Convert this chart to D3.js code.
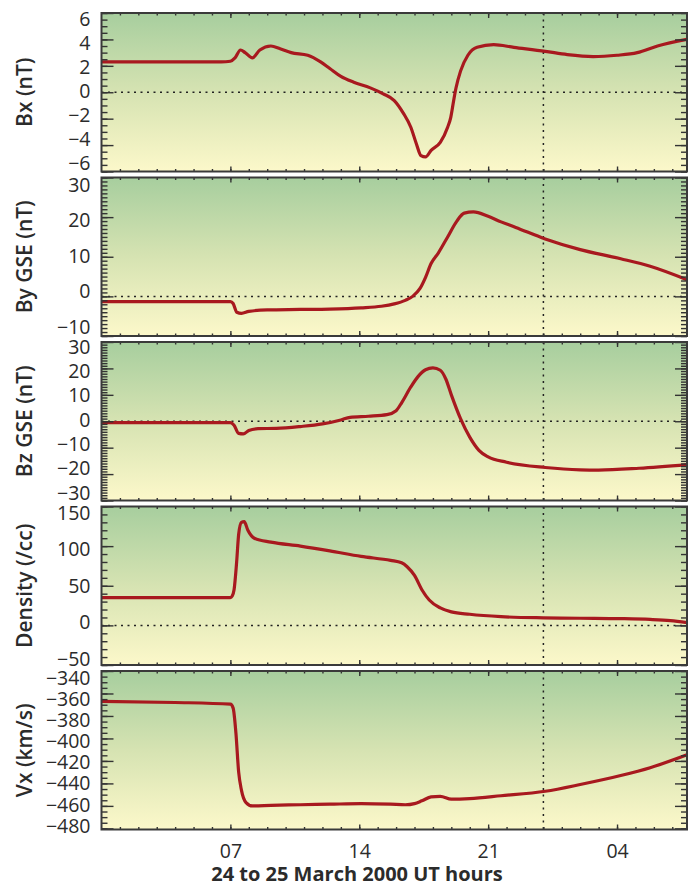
<!DOCTYPE html>
<html>
<head>
<meta charset="utf-8">
<script src="https://cdn.jsdelivr.net/npm/d3@7"></script>
<style>
  body { margin: 0; background: #fff; }
  text { font-family: "Open Sans", "Noto Sans", sans-serif; fill: #2b2b2b; }
</style>
</head>
<body>
<script>
// --- data: [hour since 00 UT 24 March, value] ---
var bxData = [[0,2.3],[3,2.3],[6.5,2.3],[7.0,2.35],[7.25,2.6],[7.55,3.2],[7.8,3.0],[8.2,2.6],[8.6,3.2],[9.2,3.5],[9.7,3.3],
  [10.3,3.0],[11.2,2.8],[11.9,2.3],[12.4,1.8],[13.0,1.2],[13.7,0.76],[14.6,0.33],[15.3,-0.12],[15.9,-0.63],[16.4,-1.6],
  [16.8,-2.65],[17.1,-3.9],[17.35,-4.8],[17.6,-4.9],[17.9,-4.4],[18.4,-3.8],[18.8,-2.65],[18.97,-1.9],[19.13,-0.6],
  [19.25,0.3],[19.5,1.6],[19.9,2.8],[20.4,3.4],[21.3,3.6],[22.4,3.4],[24.1,3.1],[25.3,2.85],[26.7,2.7],[28.0,2.8],
  [29.1,3.0],[30.2,3.5],[31.8,4.0]];

var byData = [[0,-1.3],[7.0,-1.3],[7.15,-1.8],[7.35,-4.0],[7.6,-4.3],[8.0,-3.8],[9,-3.4],[10.8,-3.3],[12.4,-3.2],
  [14.1,-2.9],[15.2,-2.5],[15.9,-1.9],[16.5,-1.0],[16.9,0],[17.3,2],[17.6,4.8],[17.9,8.3],[18.3,11],[18.8,15],[19.3,19],
  [19.7,21],[20.2,21.3],[21.0,20.2],[21.7,18.8],[22.5,17.4],[24.1,14.5],[26.0,11.8],[28.2,9.5],[29.8,7.6],[31.8,4.2]];

var bzData = [[0,-0.5],[7.0,-0.5],[7.2,-1.5],[7.45,-4.6],[7.7,-4.8],[8.0,-3.5],[8.5,-2.8],[9.5,-2.7],[10.8,-2],[12.0,-1],
  [13.0,0.5],[13.5,1.5],[14.5,1.9],[15.5,2.5],[16.0,4],[16.3,7],[16.8,13],[17.2,17],[17.6,19.5],[18.0,20.2],[18.4,19.3],
  [18.7,16],[19.0,10],[19.5,1],[20.0,-6],[20.5,-11],[21.0,-13.5],[22.0,-15.5],[24.1,-17.5],[26.0,-18.4],[27.0,-18.5],
  [29.2,-17.8],[31.8,-16.4]];

var densData = [[0,35],[7.0,35],[7.1,37],[7.2,45],[7.34,80],[7.45,115],[7.6,130],[7.75,131],[7.95,120],[8.3,110],[9.2,105],
  [10.8,100],[12.4,94],[14.1,87],[15.7,82],[16.3,79],[16.6,74],[17.0,63],[17.4,45],[17.8,32],[18.4,22],[19.0,17],
  [20.0,14],[21.7,11],[24,9.5],[26,9],[28.2,8.5],[29.8,7.5],[30.9,6],[31.8,3.5]];

var vxData = [[0,-367],[4,-368],[7.0,-369.5],[7.15,-373],[7.3,-395],[7.45,-430],[7.6,-446],[7.85,-457],[8.2,-460],
  [9.2,-459.5],[10.8,-459],[12.4,-458.5],[14.1,-458],[15.7,-458.5],[16.5,-459],[17.0,-458],[17.4,-455.5],[17.9,-452],
  [18.4,-451.5],[19.0,-454],[20.0,-453.5],[21.7,-451],[24.1,-447],[26.0,-441],[28.2,-433],[29.8,-426],[31.8,-414.5]];

// tick labels
var hourTicks = [7, 14, 21, 28];
var hourLabels = ['07', '14', '21', '04'];
var panelTitles = ['Bx (nT)', 'By GSE (nT)', 'Bz GSE (nT)', 'Density (/cc)', 'Vx (km/s)'];
var panelDomains = [[-6, 6], [-10, 30], [-30, 30], [-50, 150], [-481, -340]];
var panelLabels = [[-6,-4,-2,0,2,4,6], [-10,0,10,20,30], [-30,-20,-10,0,10,20,30], [-50,0,50,100,150],
  [-480,-460,-440,-420,-400,-380,-360,-340]];
var panelMajor = [2, 10, 10, 50, 20];
var panelMinor = [0.5, 1, 1, 10, 5];
var panelSeries = [bxData, byData, bzData, densData, vxData];

// layout
var width = 690, height = 891;
var left = 101.5, right = 687, top0 = 13, step = 164.5, panelH = 158.5;
// the labels in the original sit slightly inside the tick span
var labelInset = [[6, 8], [7.5, 9], [5, 7.5], [6.5, 6], [7, 2.5]];

var svg = d3.select('body').append('svg')
    .attr('width', width)
    .attr('height', height);

var defs = svg.append('defs');
var grad = defs.append('linearGradient')
    .attr('id', 'bg')
    .attr('x1', 0).attr('y1', 0).attr('x2', 0).attr('y2', 1);
grad.append('stop').attr('offset', '0%').attr('stop-color', '#a7ce9e');
grad.append('stop').attr('offset', '50%').attr('stop-color', '#d6e3b2');
grad.append('stop').attr('offset', '100%').attr('stop-color', '#fcf8ca');

var x = d3.scaleLinear().domain([0, 31.8]).range([left, right]);

var line = d3.line()
    .x(function(d){ return x(d[0]); })
    .curve(d3.curveMonotoneX);

panelSeries.forEach(function(series, i){
    var top = top0 + i * step;
    var bottom = top + panelH;
    var dom = panelDomains[i];

    var y = d3.scaleLinear().domain(dom).range([bottom, top]);
    var yLab = d3.scaleLinear().domain(dom).range([bottom - labelInset[i][1], top + labelInset[i][0]]);

    var g = svg.append('g');

    defs.append('clipPath').attr('id', 'clip' + i)
      .append('rect')
        .attr('x', left).attr('y', top)
        .attr('width', right - left).attr('height', panelH);

    // background
    g.append('rect')
        .attr('x', left).attr('y', top)
        .attr('width', right - left).attr('height', panelH)
        .attr('fill', 'url(#bg)');

    // dotted zero line and midnight line
    if (dom[0] < 0 && dom[1] > 0) {
        g.append('line')
            .attr('x1', left).attr('x2', right)
            .attr('y1', y(0)).attr('y2', y(0))
            .attr('stroke', '#222').attr('stroke-width', 1.5)
            .attr('stroke-dasharray', '2,4.5');
    }
    g.append('line')
        .attr('x1', x(24)).attr('x2', x(24))
        .attr('y1', top).attr('y2', bottom)
        .attr('stroke', '#222').attr('stroke-width', 1.5)
        .attr('stroke-dasharray', '2,4.5');

    // the data line
    g.append('path')
        .datum(series)
        .attr('clip-path', 'url(#clip' + i + ')')
        .attr('d', line.y(function(d){ return y(d[1]); }))
        .attr('fill', 'none')
        .attr('stroke', '#a8191f')
        .attr('stroke-width', 3.2)
        .attr('stroke-linejoin', 'round');

    var majors = d3.range(dom[0] - (dom[0] % panelMajor[i]), dom[1] + 0.001, panelMajor[i]).filter(function(v){ return v >= dom[0]; });
    var minors = d3.range(Math.ceil(dom[0] / panelMinor[i]) * panelMinor[i], dom[1] + 0.001, panelMinor[i]);

    // ticks on all four sides, pointing inward
    var ticks = [
        [d3.axisRight(y).tickValues(minors).tickSize(6), 'translate(' + left + ',0)'],
        [d3.axisRight(y).tickValues(majors).tickSize(12), 'translate(' + left + ',0)'],
        [d3.axisLeft(y).tickValues(minors).tickSize(6), 'translate(' + right + ',0)'],
        [d3.axisLeft(y).tickValues(majors).tickSize(12), 'translate(' + right + ',0)'],
        [d3.axisBottom(x).tickValues(d3.range(1, 32)).tickSize(2.5), 'translate(0,' + top + ')'],
        [d3.axisBottom(x).tickValues(hourTicks).tickSize(5), 'translate(0,' + top + ')'],
        [d3.axisTop(x).tickValues(d3.range(1, 32)).tickSize(2.5), 'translate(0,' + bottom + ')'],
        [d3.axisTop(x).tickValues(hourTicks).tickSize(5), 'translate(0,' + bottom + ')']
    ];
    ticks.forEach(function(t){
        var a = g.append('g')
            .attr('transform', t[1])
            .call(t[0].tickFormat(''));
        a.select('.domain').remove();
        a.selectAll('line').attr('stroke', '#333').attr('stroke-width', 1.4);
    });

    // tick labels on the left
    var lab = g.append('g')
        .attr('transform', 'translate(' + left + ',0)')
        .call(d3.axisLeft(yLab).tickValues(panelLabels[i]).tickSize(0).tickPadding(11)
            .tickFormat(function(d){ return d < 0 ? '\u2212' + Math.abs(d) : d; }));
    lab.select('.domain').remove();
    lab.selectAll('text')
        .attr('fill', '#2b2b2b')
        .style('font-size', '19.5px')
        .style('font-family', '"Open Sans", sans-serif');

    // frame
    g.append('rect')
        .attr('x', left).attr('y', top)
        .attr('width', right - left).attr('height', panelH)
        .attr('fill', 'none')
        .attr('stroke', '#3a3a3a')
        .attr('stroke-width', 2);

    // axis title
    svg.append('text')
        .text(panelTitles[i])
        .attr('transform', 'translate(32,' + (top + panelH / 2) + ')rotate(270)')
        .style('text-anchor', 'middle')
        .style('font-size', '21px')
        .style('font-weight', '600');
});

// hour labels under the last panel
var lastBottom = top0 + 4 * step + panelH;
var xa = svg.append('g')
    .attr('transform', 'translate(0,' + lastBottom + ')')
    .call(d3.axisBottom(x).tickValues(hourTicks).tickSize(0).tickPadding(15)
        .tickFormat(function(d, j){ return hourLabels[j]; }));
xa.select('.domain').remove();
xa.selectAll('text')
    .attr('fill', '#2b2b2b')
    .style('font-size', '19.5px')
    .style('font-family', '"Open Sans", sans-serif');

svg.append('text')
    .text('24 to 25 March 2000 UT hours')
    .attr('x', 357)
    .attr('y', 881)
    .style('text-anchor', 'middle')
    .style('font-size', '20px')
    .style('font-weight', 'bold');
</script>
</body>
</html>
